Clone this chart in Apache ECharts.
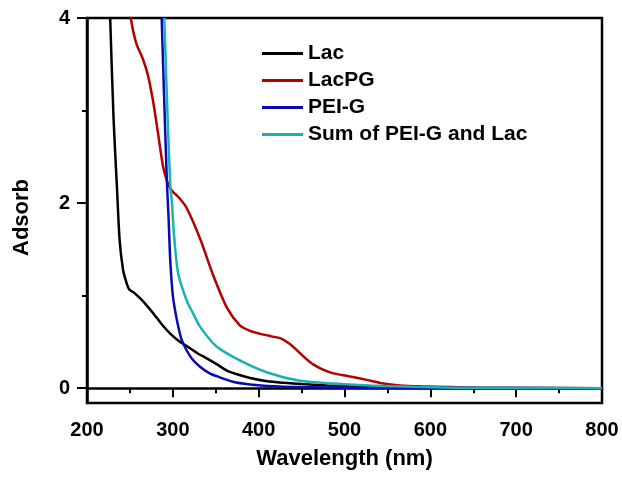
<!DOCTYPE html>
<html><head><meta charset="utf-8">
<script src="https://cdn.jsdelivr.net/npm/echarts@6/dist/echarts.min.js"></script>
<style>html,body{margin:0;padding:0;background:#fff}#c{width:622px;height:477px}</style>
</head><body><div id="c"></div>
<script>
var seriesNames = ['Lac', 'LacPG', 'PEI-G', 'Sum of PEI-G and Lac'];
var xTicks = [200, 300, 400, 500, 600, 700, 800];
var yTickLabels = [0, 2, 4];
var yMinorTicks = [1, 3];

var lacX = [227, 231, 235, 238, 242, 246, 249, 255, 262, 270, 278, 288, 297, 307, 317, 330, 340, 351, 363, 375, 390, 410, 430, 450, 480, 520, 560, 600, 650, 700, 800];
var lacY = [4.0, 2.9, 2.15, 1.6, 1.28, 1.14, 1.07, 1.03, 0.97, 0.89, 0.80, 0.68, 0.59, 0.51, 0.45, 0.37, 0.32, 0.26, 0.19, 0.15, 0.11, 0.075, 0.058, 0.045, 0.03, 0.02, 0.012, 0.006, 0.003, 0.001, 0];

var lacpgX = [250, 254, 258, 265, 271, 277, 283, 289, 297, 308, 316, 332, 347, 363, 378, 390, 401, 415, 425, 436, 448, 455, 463, 475, 487, 505, 526, 545, 565, 590, 623, 660, 700, 800];
var lacpgY = [4.05, 3.85, 3.71, 3.56, 3.38, 3.1, 2.74, 2.38, 2.16, 2.05, 1.95, 1.61, 1.22, 0.87, 0.68, 0.62, 0.59, 0.56, 0.54, 0.48, 0.38, 0.32, 0.26, 0.2, 0.16, 0.13, 0.09, 0.05, 0.03, 0.02, 0.012, 0.005, 0.002, 0];

var peigX = [287, 290, 293, 295, 297, 300, 303, 306, 310, 316, 323, 332, 343, 351, 370, 390, 410, 450, 500, 600, 800];
var peigY = [4.0, 3.1, 2.25, 1.85, 1.38, 1.0, 0.82, 0.68, 0.53, 0.41, 0.31, 0.23, 0.16, 0.13, 0.07, 0.04, 0.025, 0.012, 0.006, 0.002, 0];

var sumX = [290, 294, 297, 299, 301, 306, 316, 324, 332, 351, 378, 410, 448, 487, 530, 580, 630, 700, 800];
var sumY = [4.0, 2.9, 2.2, 2.0, 1.7, 1.25, 0.95, 0.8, 0.66, 0.45, 0.3, 0.17, 0.08, 0.05, 0.03, 0.015, 0.006, 0.002, 0];

var colors = ['#000000', '#b40000', '#0a0ab4', '#17b3b0'];

function pairs(xs, ys) { return xs.map(function (x, i) { return [x, ys[i]]; }); }
var allData = [pairs(lacX, lacY), pairs(lacpgX, lacpgY), pairs(peigX, peigY), pairs(sumX, sumY)];

var font = 'Liberation Sans, Arial, sans-serif';
var chart = echarts.init(document.getElementById('c'), null, {renderer: 'canvas'});
chart.setOption({
  animation: false,
  backgroundColor: '#fff',
  grid: {left: 87, right: 20, top: 18, bottom: 74, show: true, borderColor: '#000', borderWidth: 2.5, backgroundColor: 'transparent'},
  legend: {
    orient: 'vertical', left: 257, top: 38, icon: 'rect', itemWidth: 41, itemHeight: 3, itemGap: 6,
    textStyle: {fontFamily: font, fontWeight: 'bold', fontSize: 21, color: '#000', lineHeight: 21},
    data: seriesNames
  },
  xAxis: {
    type: 'value', min: 200, max: 800, interval: 100,
    name: 'Wavelength (nm)', nameLocation: 'middle', nameGap: 45,
    nameTextStyle: {fontFamily: font, fontWeight: 'bold', fontSize: 22, color: '#000'},
    axisLine: {show: true, lineStyle: {color: '#000', width: 2.5}},
    axisTick: {show: true, inside: false, length: 9, lineStyle: {color: '#000', width: 2}},
    minorTick: {show: true, splitNumber: 2, length: 5, lineStyle: {color: '#000', width: 2}},
    axisLabel: {margin: 17, fontFamily: font, fontWeight: 'bold', fontSize: 20, color: '#000',
      formatter: function (v) { return xTicks.indexOf(v) >= 0 ? String(v) : ''; }},
    splitLine: {show: false}
  },
  yAxis: [{
    type: 'value', min: -0.16, max: 4,
    name: 'Adsorb', nameLocation: 'middle', nameGap: 54, nameRotate: 90,
    nameTextStyle: {fontFamily: font, fontWeight: 'bold', fontSize: 22, color: '#000', padding: [0, 14, 0, 0]},
    axisLine: {show: true, lineStyle: {color: '#000', width: 2.5}},
    axisTick: {show: true, length: 10, customValues: yTickLabels, lineStyle: {color: '#000', width: 2}},
    axisLabel: {customValues: yTickLabels, margin: 17, fontFamily: font, fontWeight: 'bold', fontSize: 20, color: '#000'},
    splitLine: {show: false}
  }, {
    type: 'value', min: -0.16, max: 4, position: 'left',
    axisLine: {show: false},
    axisTick: {show: true, length: 5, customValues: yMinorTicks, lineStyle: {color: '#000', width: 2}},
    axisLabel: {show: false},
    splitLine: {show: false}
  }],
  series: seriesNames.map(function (n, i) {
    return {
      name: n, type: 'line', data: allData[i], yAxisIndex: 0,
      showSymbol: false, symbol: 'none', smooth: 0.25, clip: true,
      color: colors[i], lineStyle: {color: colors[i], width: 2.5}
    };
  })
});
</script></body></html>
